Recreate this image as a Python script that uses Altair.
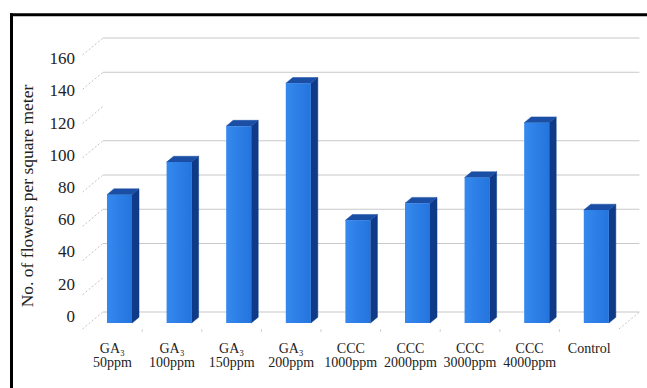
import altair as alt
import pandas as pd

# Treatments and mean number of flowers per square meter
treatments = [
    "GA₃ 50ppm", "GA₃ 100ppm", "GA₃ 150ppm", "GA₃ 200ppm",
    "CCC 1000ppm", "CCC 2000ppm", "CCC 3000ppm", "CCC 4000ppm", "Control",
]
flowers = [75, 94, 115, 140, 60, 70, 85, 117, 66]
y_ticks = [0, 20, 40, 60, 80, 100, 120, 140, 160]
wall_lines = [0, 40, 60, 80, 100, 140, 160]

W, H = 647, 388

# Oblique 3-D projection: depth z runs from 0 (back wall) to 1 (front floor edge)
DX = 0.3423      # horizontal shift of the back wall, in category units
DV = 9.93        # vertical shift of the front edge, in value units
Z_FRONT, Z_BACK = 0.652, 0.309   # depth of the columns' front and back faces
HALF_W = 0.21    # half width of a column, in category units


def px(i, z):
    return i + DX * (1 - z)


def pv(v, z):
    return v - DV * z


xs = alt.Scale(domain=[-1.8859, 8.9698], nice=False, zero=False)
ys = alt.Scale(domain=[-44.38, 182.19], nice=False, zero=False)
label_scale = alt.Scale(domain=[-44.31, 196.83], nice=False, zero=False)

FRONT_LIGHT, FRONT_DARK = "#3589ee", "#2474de"
TOP = "#1b4fa6"
SIDE = "#0e3a88"
GRID = "#c8c8c8"
DASH = "#c4c4c4"
FONT = "Liberation Serif"

front_rows, side_rows, top_rows = [], [], []
for i, (t, v) in enumerate(zip(treatments, flowers)):
    xl_f, xr_f = px(i - HALF_W, Z_FRONT), px(i + HALF_W, Z_FRONT)
    xl_b, xr_b = px(i - HALF_W, Z_BACK), px(i + HALF_W, Z_BACK)
    vt_f, vt_b = pv(v, Z_FRONT), pv(v, Z_BACK)
    front_rows.append({"t": t, "x": xl_f, "x2": xr_f, "y": vt_f, "y2": pv(0, Z_FRONT)})
    side_rows += [
        {"t": t, "x": xr_f, "y": vt_f, "y2": pv(0, Z_FRONT)},
        {"t": t, "x": xr_b, "y": vt_b, "y2": pv(0, Z_BACK)},
    ]
    top_rows += [
        {"t": t, "x": xl_f, "y": vt_f, "y2": vt_f},
        {"t": t, "x": xl_b, "y": vt_b, "y2": vt_f},
        {"t": t, "x": xr_f, "y": vt_b, "y2": vt_f},
        {"t": t, "x": xr_b, "y": vt_b, "y2": vt_b},
    ]

front_df = pd.DataFrame(front_rows)
side_df = pd.DataFrame(side_rows)
top_df = pd.DataFrame(top_rows)

n = len(treatments)
wall_df = pd.DataFrame({"y": wall_lines, "x": px(-0.5, 0), "x2": px(n - 0.5, 0)})
side_wall_df = pd.DataFrame({
    "x": px(-0.5, 1), "x2": px(-0.5, 0),
    "y": [pv(v, 1) for v in y_ticks], "y2": y_ticks,
})
floor_edge_df = pd.DataFrame({"x": [px(n - 0.5, 1)], "x2": [px(n - 0.5, 0)],
                              "y": [pv(0, 1)], "y2": [0.0]})
floor_ticks_df = pd.DataFrame({"x": [k + 0.5 for k in range(n - 1)],
                               "y": pv(0, 1), "y2": pv(0, 1) - 1.8})
ylab_df = pd.DataFrame({"v": y_ticks, "x": -0.6275, "label": [str(v) for v in y_ticks]})
xlab_df = pd.DataFrame({"x": list(range(n)), "label": treatments})

X = lambda f="x:Q": alt.X(f, scale=xs, axis=None)
Y = lambda f="y:Q": alt.Y(f, scale=ys, axis=None, stack=False)

wall = alt.Chart(wall_df).mark_rule(color=GRID, strokeWidth=1.1).encode(
    x=X(), x2="x2:Q", y=Y())
side_wall = alt.Chart(side_wall_df).mark_rule(
    color=DASH, strokeWidth=1, strokeDash=[2, 2]).encode(
    x=X(), x2="x2:Q", y=Y(), y2="y2:Q")
floor_edge = alt.Chart(floor_edge_df).mark_rule(
    color=DASH, strokeWidth=1, strokeDash=[2, 2]).encode(
    x=X(), x2="x2:Q", y=Y(), y2="y2:Q")
floor_ticks = alt.Chart(floor_ticks_df).mark_rule(color="#d0d0d0", strokeWidth=1).encode(
    x=X(), y=Y(), y2="y2:Q")

side = alt.Chart(side_df).mark_area(color=SIDE, stroke=SIDE, strokeWidth=0.5).encode(
    x=X(), y=Y(), y2="y2:Q", detail="t:N")
top = alt.Chart(top_df).mark_area(color=TOP, stroke=TOP, strokeWidth=0.5).encode(
    x=X(), y=Y(), y2="y2:Q", detail="t:N")
front = alt.Chart(front_df).mark_rect(
    color=alt.Gradient(
        gradient="linear", x1=0, x2=1, y1=0, y2=0,
        stops=[alt.GradientStop(offset=0, color=FRONT_LIGHT),
               alt.GradientStop(offset=1, color=FRONT_DARK)],
    )
).encode(x=X(), x2="x2:Q", y=Y(), y2="y2:Q")

x_labels = alt.Chart(xlab_df).mark_text(
    font=FONT, fontSize=14, color="#222222", baseline="top", align="center",
    lineBreak=" ", lineHeight=14,
).encode(x=X(), y=alt.value(342), text="label:N")

frame_top = alt.Chart(floor_edge_df).mark_rule(color="black", strokeWidth=3).encode(
    x=alt.value(10), x2=alt.value(W), y=alt.value(14.7))
frame_left = alt.Chart(floor_edge_df).mark_rule(color="black", strokeWidth=3).encode(
    x=alt.value(11.5), y=alt.value(13.2), y2=alt.value(H))

y_title = alt.Chart(floor_edge_df).mark_text(
    text="No. of flowers per square meter", font=FONT, fontSize=17.5,
    color="#222222", angle=270, align="center", baseline="middle",
).encode(x=alt.value(28), y=alt.value(196))

main = alt.layer(wall, side_wall, floor_edge, floor_ticks, side, top, front,
                 x_labels, frame_top, frame_left, y_title)

y_labels = alt.Chart(ylab_df).mark_text(
    font=FONT, fontSize=17, color="#222222", align="right", baseline="middle",
).encode(
    x=X(),
    y=alt.Y("v:Q", scale=label_scale, axis=None),
    text="label:N",
)

chart = alt.layer(main, y_labels).resolve_scale(y="independent").properties(
    width=W, height=H, padding=0,
    autosize=alt.AutoSizeParams(type="none"),
    background="white",
).configure_view(stroke=None)

chart.save("out.html", embed_options={"renderer": "svg", "actions": False})
